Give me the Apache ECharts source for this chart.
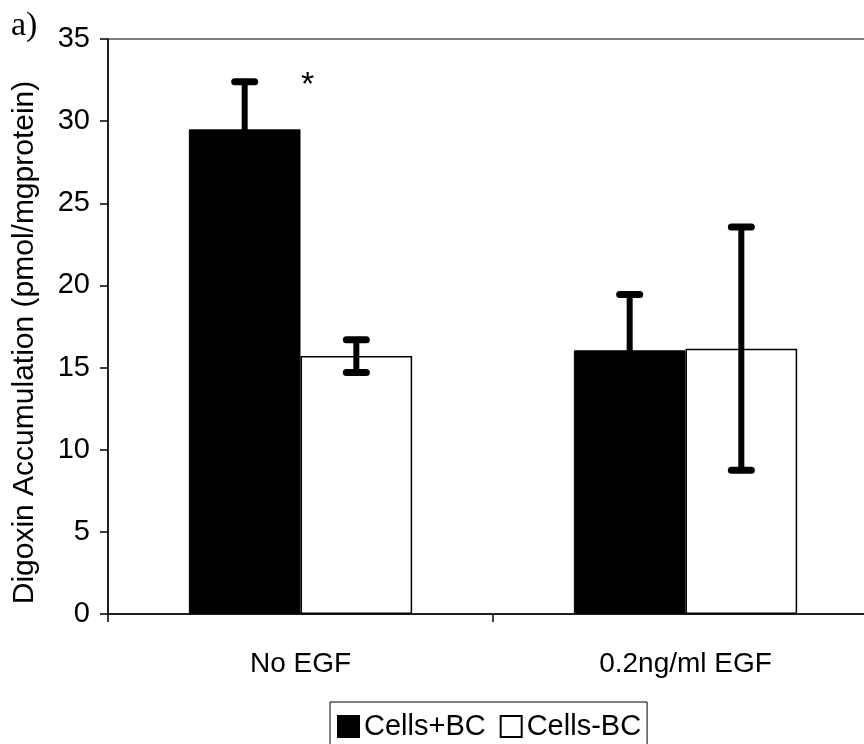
<!DOCTYPE html>
<html>
<head>
<meta charset="utf-8">
<script src="https://cdn.jsdelivr.net/npm/echarts@6/dist/echarts.min.js"></script>
<style>
  html, body { margin: 0; padding: 0; background: #fff; overflow: hidden; }
  #chart { width: 880px; height: 744px; }
</style>
</head>
<body>
<div id="chart"></div>
<script>
// Digoxin accumulation with and without EGF treatment
const categories = ['No EGF', '0.2ng/ml EGF'];
const seriesNames = ['Cells+BC', 'Cells-BC'];
const cellsPlusBC = [29.5, 16.05];
const cellsPlusBCErr = [2.9, 3.4];
const cellsMinusBC = [15.7, 16.15];
const cellsMinusBCErr = [1.0, 7.4];
const plusBCMarks = ['*', ''];
const yTicks = [0, 5, 10, 15, 20, 25, 30, 35];

const FONT = '"Liberation Sans", Arial, sans-serif';
const GAP = 0.42; // category gap fraction

function errorRenderer(side, marks) {
  return function (params, api) {
    const cat = api.value(0);
    const v = api.value(1);
    const e = api.value(2);
    const band = api.size([1, 0])[0];
    const bw = band * (1 - GAP) / 2;
    const cx = api.coord([cat, v])[0] + side * bw / 2;
    const yTop = api.coord([cat, v + e])[1];
    const yBot = api.coord([cat, v - e])[1];
    const half = 10;
    const style = { stroke: '#000', lineWidth: 6, lineCap: 'butt' };
    const capStyle = { stroke: '#000', lineWidth: 7, lineCap: 'round' };
    const children = [
      { type: 'line', shape: { x1: cx, y1: yTop, x2: cx, y2: yBot }, style: style },
      { type: 'line', shape: { x1: cx - half, y1: yTop, x2: cx + half, y2: yTop }, style: capStyle },
      { type: 'line', shape: { x1: cx - half, y1: yBot, x2: cx + half, y2: yBot }, style: capStyle }
    ];
    const mark = marks ? marks[params.dataIndex] : '';
    if (mark) {
      children.push({
        type: 'text',
        style: {
          x: cx + bw / 2 + 7, y: yTop + 4, text: mark,
          fill: '#000', font: '34px ' + FONT,
          textAlign: 'center', textVerticalAlign: 'middle'
        }
      });
    }
    return { type: 'group', children: children };
  };
}

const chart = echarts.init(document.getElementById('chart'), null, { renderer: 'canvas' });

chart.setOption({
  animation: false,
  backgroundColor: '#fff',
  textStyle: { fontFamily: FONT, color: '#000' },
  graphic: [{
    type: 'text', left: 11, top: 9,
    style: { text: 'a)', font: '34px "Liberation Serif", "Times New Roman", serif', fill: '#000' }
  }],
  grid: {
    left: 108, top: 39, width: 770, height: 575,
    show: true, borderColor: '#000', borderWidth: 1, backgroundColor: 'transparent'
  },
  legend: {
    data: seriesNames,
    left: 330, top: 702,
    itemWidth: 21, itemHeight: 21, itemGap: 14,
    padding: [10, 6, 14, 7],
    borderColor: '#000', borderWidth: 1, backgroundColor: '#fff',
    icon: 'rect',
    textStyle: { fontSize: 29, fontFamily: FONT, color: '#000' }
  },
  xAxis: {
    type: 'category',
    data: categories,
    axisLine: { lineStyle: { color: '#000', width: 1.5 } },
    axisTick: { show: true, length: 8, lineStyle: { color: '#000', width: 1.5 } },
    axisLabel: { fontSize: 28, color: '#000', margin: 36, fontFamily: FONT },
    splitLine: { show: false }
  },
  yAxis: {
    type: 'value',
    min: 0, max: 35, interval: 5,
    name: 'Digoxin Accumulation (pmol/mgprotein)',
    nameLocation: 'middle',
    nameGap: 68,
    nameTextStyle: { fontSize: 30, color: '#000', fontFamily: FONT, padding: [0, 32, 0, 0] },
    axisLine: { show: true, lineStyle: { color: '#000', width: 1.5 } },
    axisTick: { show: true, length: 8, lineStyle: { color: '#000', width: 1.5 } },
    axisLabel: {
      fontSize: 29, color: '#000', margin: 18, fontFamily: FONT,
      formatter: function (v) { return yTicks.indexOf(v) >= 0 ? String(v) : ''; }
    },
    splitLine: { show: false }
  },
  series: [
    {
      name: seriesNames[0], type: 'bar', data: cellsPlusBC,
      barGap: '0%', barCategoryGap: (GAP * 100) + '%',
      itemStyle: { color: '#000', borderColor: '#000', borderWidth: 1 },
      z: 2
    },
    {
      name: seriesNames[1], type: 'bar', data: cellsMinusBC,
      barGap: '0%', barCategoryGap: (GAP * 100) + '%',
      itemStyle: { color: '#fff', borderColor: '#000', borderWidth: 1.5 },
      z: 2
    },
    {
      type: 'custom', name: 'err+',
      renderItem: errorRenderer(-1, plusBCMarks),
      data: cellsPlusBC.map((v, i) => [i, v, cellsPlusBCErr[i]]),
      z: 5, silent: true
    },
    {
      type: 'custom', name: 'err-',
      renderItem: errorRenderer(1, null),
      data: cellsMinusBC.map((v, i) => [i, v, cellsMinusBCErr[i]]),
      z: 5, silent: true
    }
  ]
});
</script>
</body>
</html>
